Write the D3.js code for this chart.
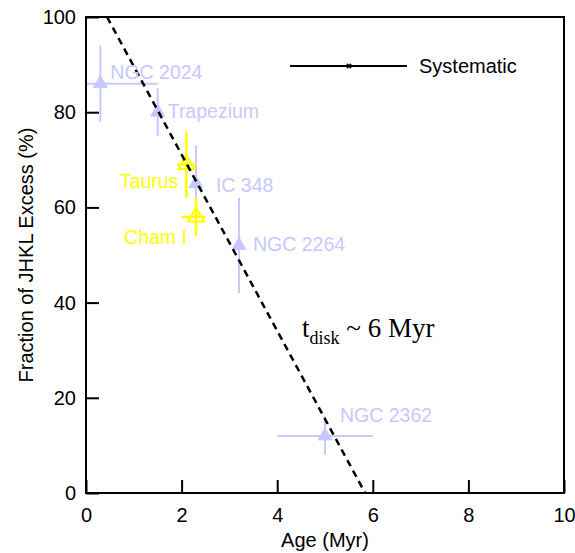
<!DOCTYPE html>
<html>
<head>
<meta charset="utf-8">
<script src="https://cdn.jsdelivr.net/npm/d3@7/dist/d3.min.js"></script>
<style>
  body { margin: 0; background: #fff; }
  svg { display: block; }
</style>
</head>
<body>
<svg id="chart" width="575" height="553"></svg>
<script>
// ---- data ----
const clusters   = ["NGC 2024", "Trapezium", "Taurus", "IC 348", "Cham I", "NGC 2264", "NGC 2362"];
const ages       = [0.3, 1.5, 2.1, 2.3, 2.3, 3.2, 5.0];
const fractions  = [86, 80, 69, 65, 58, 52, 12];
const ageErrLow  = [0.3, 0, 0.2, 0, 0.3, 0, 1.0];
const ageErrHigh = [1.2, 0, 0.2, 0, 0.2, 0, 1.0];
const fracErr    = [8, 5, 7, 8, 4, 10, 4];
const groups     = ["lit", "lit", "new", "lit", "new", "lit", "lit"];
const fitAges      = [0.44, 5.84];
const fitFractions = [100, 0];
const xTicks = [0, 2, 4, 6, 8, 10];
const yTicks = [0, 20, 40, 60, 80, 100];

// ---- styles ----
const SANS = "'Liberation Sans', Arial, sans-serif";
const SERIF = "'Liberation Serif', 'Times New Roman', serif";
const colors = { lit: "#c8c8ff", new: "#ffff00" };
const labelStyle = {
  "NGC 2024":  { dx: 10, dy: -12, anchor: "start" },
  "Trapezium": { dx: 10, dy: -1,  anchor: "start" },
  "Taurus":    { dx: -8, dy: 16,  anchor: "end" },
  "IC 348":    { dx: 20, dy: 1,   anchor: "start" },
  "Cham I":    { dx: -9, dy: 20,  anchor: "end" },
  "NGC 2264":  { dx: 14, dy: -2,  anchor: "start" },
  "NGC 2362":  { dx: 15, dy: -21, anchor: "start" }
};

const svg = d3.select("#chart").style("font-family", SANS);
const mLeft = 86, mRight = 564, mTop = 17, mBottom = 493;

const x = d3.scaleLinear().domain([0, 10]).range([mLeft, mRight]);
const y = d3.scaleLinear().domain([0, 100]).range([mBottom, mTop]);

const data = clusters.map((c, i) => ({
  name: c, age: ages[i], frac: fractions[i],
  xl: ageErrLow[i], xh: ageErrHigh[i], ye: fracErr[i], g: groups[i]
}));

const plot = svg.append("g");
plot.append("defs").append("clipPath").attr("id", "clip")
  .append("rect").attr("x", mLeft).attr("y", mTop)
  .attr("width", mRight - mLeft).attr("height", mBottom - mTop);

const order = data.filter(d => d.g === "lit").concat(data.filter(d => d.g === "new"));

const marks = plot.append("g");
order.forEach(d => {
  const col = colors[d.g];
  const sw = d.g === "new" ? 2.5 : 2;
  const g = marks.append("g");
  g.append("line")
    .attr("x1", x(d.age)).attr("x2", x(d.age))
    .attr("y1", y(d.frac + d.ye)).attr("y2", y(d.frac - d.ye))
    .attr("stroke", col).attr("stroke-width", sw);
  if (d.xl > 0 || d.xh > 0) {
    g.append("line")
      .attr("x1", x(d.age - d.xl)).attr("x2", x(d.age + d.xh))
      .attr("y1", y(d.frac)).attr("y2", y(d.frac))
      .attr("stroke", col).attr("stroke-width", sw);
  }
  const sym = d3.symbol().type(d3.symbolTriangle).size(d.g === "new" ? 110 : 85);
  g.append("path")
    .attr("d", sym())
    .attr("transform", `translate(${x(d.age)},${y(d.frac)})`)
    .attr("fill", d.g === "new" ? "none" : col)
    .attr("stroke", col)
    .attr("stroke-width", d.g === "new" ? 2.2 : 1);
});

plot.append("path")
  .attr("clip-path", "url(#clip)")
  .attr("d", d3.line()(fitAges.map((a, i) => [x(a), y(fitFractions[i])])))
  .attr("fill", "none").attr("stroke", "#000")
  .attr("stroke-width", 2.5).attr("stroke-dasharray", "7,5");

data.forEach(d => {
  const s = labelStyle[d.name];
  plot.append("text")
    .attr("x", x(d.age) + s.dx).attr("y", y(d.frac) + s.dy)
    .attr("dy", "0.36em")
    .attr("text-anchor", s.anchor)
    .attr("font-size", 19.5)
    .attr("fill", colors[d.g])
    .text(d.name);
});

svg.append("rect")
  .attr("x", mLeft).attr("y", mTop)
  .attr("width", mRight - mLeft).attr("height", mBottom - mTop)
  .attr("fill", "none").attr("stroke", "#000").attr("stroke-width", 2);

const xAxis = svg.append("g").attr("transform", `translate(0,${mBottom})`)
  .call(d3.axisBottom(x).tickValues(xTicks).tickSize(-13).tickPadding(22).tickFormat(d3.format("d")));
const yAxis = svg.append("g").attr("transform", `translate(${mLeft},0)`)
  .call(d3.axisLeft(y).tickValues(yTicks).tickSize(-13).tickPadding(22).tickFormat(d3.format("d")));
[xAxis, yAxis].forEach(a => {
  a.attr("font-family", null);
  a.select(".domain").remove();
  a.selectAll(".tick line").attr("stroke", "#000").attr("stroke-width", 2);
  a.selectAll(".tick text").attr("font-size", 20).attr("fill", "#000")
    .style("font-family", SANS);
});
yAxis.selectAll(".tick text").attr("x", -10);
xAxis.selectAll(".tick text").attr("y", 15).attr("dy", "0.71em");

svg.append("text")
  .attr("x", (mLeft + mRight) / 2).attr("y", 547)
  .attr("text-anchor", "middle").attr("font-size", 20)
  .text("Age (Myr)");
svg.append("text")
  .attr("transform", `translate(33,${(mTop + mBottom) / 2}) rotate(-90)`)
  .attr("text-anchor", "middle").attr("font-size", 20)
  .text("Fraction of JHKL Excess (%)");

const lg = svg.append("g");
lg.append("line").attr("x1", 290).attr("x2", 407).attr("y1", 66).attr("y2", 66)
  .attr("stroke", "#000").attr("stroke-width", 2);
lg.append("path").attr("d", d3.symbol().type(d3.symbolCross).size(18)())
  .attr("transform", "translate(349,66) rotate(45)").attr("fill", "#000");
lg.append("text").attr("x", 419).attr("y", 66).attr("dy", "0.36em")
  .attr("font-size", 20).text("Systematic");

const ann = svg.append("text")
  .attr("x", 302).attr("y", 337)
  .style("font-family", SERIF)
  .attr("font-size", 27);
ann.append("tspan").text("t");
ann.append("tspan").attr("font-size", 18).attr("dy", 7).text("disk");
ann.append("tspan").attr("dy", -7).text(" ~ 6 Myr");
</script>
</body>
</html>
